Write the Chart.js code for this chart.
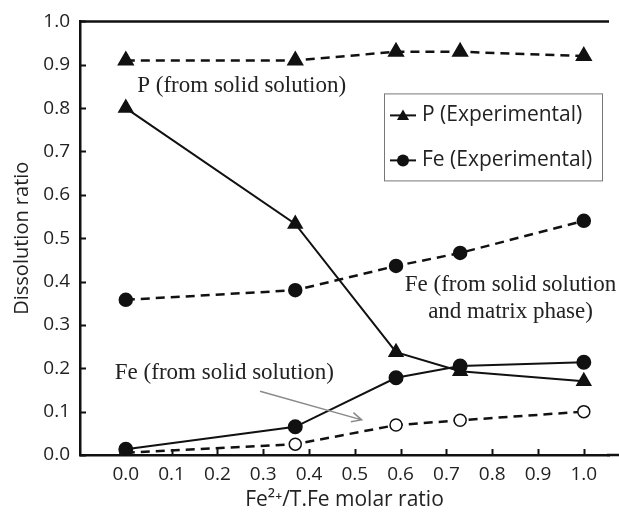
<!DOCTYPE html>
<html>
<head>
<meta charset="utf-8">
<title>Dissolution ratio</title>
<script src="https://cdn.jsdelivr.net/npm/chart.js@4.4.1/dist/chart.umd.min.js"></script>
<style>
  html, body { margin:0; padding:0; background:#fff; overflow:hidden; }
  #wrap { width:619px; height:515px; }
</style>
</head>
<body>
<div id="wrap"><canvas id="chart" width="619" height="515"></canvas></div>
<script>
// Fe2+/T.Fe molar ratio of each sample
const xVals = [0.0, 0.37, 0.59, 0.73, 1.0];

// dissolution ratios
const pExp     = [0.800, 0.533, 0.237, 0.193, 0.170];
const pSolid   = [0.910, 0.910, 0.930, 0.930, 0.920];
const feExp    = [0.013, 0.065, 0.178, 0.205, 0.214];
const feMatrix = [0.358, 0.380, 0.436, 0.466, 0.540];
const feSolid  = [0.005, 0.025, 0.069, 0.080, 0.100];

const xTicks = [0.0, 0.1, 0.2, 0.3, 0.4, 0.5, 0.6, 0.7, 0.8, 0.9, 1.0];
const yTicks = [0.0, 0.1, 0.2, 0.3, 0.4, 0.5, 0.6, 0.7, 0.8, 0.9, 1.0];

const legendLabels = ["P (Experimental)", "Fe (Experimental)"];

const SANS = "'Open Sans', sans-serif";
const SERIF = "'Liberation Serif', 'Times New Roman', serif";
const INK = "#111";

// text notes placed in data units
const notes = [
  { text: "P (from solid solution)", x: 0.025, y: 0.852, align: "left" },
  { text: "Fe (from solid solution", x: 0.84, y: 0.393, align: "center" },
  { text: "and matrix phase)", x: 0.84, y: 0.329, align: "center" },
  { text: "Fe (from solid solution)", x: -0.024, y: 0.19, align: "left" }
];
const arrow = { x0: 0.293, y0: 0.147, x1: 0.515, y1: 0.081 };

function pts(ys){ return xVals.map((x, i) => ({ x, y: ys[i] })); }

function tri(ctx, x, y, r){
  ctx.beginPath();
  ctx.moveTo(x, y - r);
  ctx.lineTo(x + r * 0.866, y + r * 0.5);
  ctx.lineTo(x - r * 0.866, y + r * 0.5);
  ctx.closePath();
  ctx.fill();
}

const extras = {
  id: "extras",
  afterDatasetsDraw(chart){
    const { ctx, chartArea: a, scales: { x, y } } = chart;
    ctx.save();

    // top frame line, and the x axis line running on to the edge
    ctx.strokeStyle = INK;
    ctx.lineWidth = 2.5;
    ctx.beginPath();
    ctx.moveTo(a.left, a.top);
    ctx.lineTo(a.right, a.top);
    ctx.moveTo(a.right - 2, a.bottom);
    ctx.lineTo(chart.width, a.bottom);
    ctx.stroke();

    // inward tick marks
    ctx.lineWidth = 2;
    ctx.beginPath();
    xTicks.forEach(v => {
      const px = Math.round(x.getPixelForValue(v)) + 0.5;
      ctx.moveTo(px, a.bottom);
      ctx.lineTo(px, a.bottom - 6);
    });
    yTicks.forEach(v => {
      const py = Math.round(y.getPixelForValue(v)) + 0.5;
      ctx.moveTo(a.left, py);
      ctx.lineTo(a.left + 6, py);
    });
    ctx.stroke();

    // notes
    ctx.fillStyle = "#222";
    ctx.font = "23px " + SERIF;
    ctx.textBaseline = "middle";
    notes.forEach(n => {
      ctx.textAlign = n.align;
      ctx.fillText(n.text, x.getPixelForValue(n.x), y.getPixelForValue(n.y));
    });

    // grey pointer arrow
    const ax0 = x.getPixelForValue(arrow.x0), ay0 = y.getPixelForValue(arrow.y0);
    const ax1 = x.getPixelForValue(arrow.x1), ay1 = y.getPixelForValue(arrow.y1);
    const ang = Math.atan2(ay1 - ay0, ax1 - ax0);
    ctx.strokeStyle = "#8a8a8a";
    ctx.lineWidth = 1.5;
    ctx.beginPath();
    ctx.moveTo(ax0, ay0);
    ctx.lineTo(ax1, ay1);
    ctx.moveTo(ax1 - 11 * Math.cos(ang - 0.45), ay1 - 11 * Math.sin(ang - 0.45));
    ctx.lineTo(ax1, ay1);
    ctx.lineTo(ax1 - 11 * Math.cos(ang + 0.45), ay1 - 11 * Math.sin(ang + 0.45));
    ctx.stroke();

    // legend box
    const bx = a.left + 304, by = a.top + 72, bw = 218, bh = 87;
    ctx.fillStyle = "#fff";
    ctx.fillRect(bx, by, bw, bh);
    ctx.strokeStyle = "#777";
    ctx.lineWidth = 1;
    ctx.strokeRect(bx + 0.5, by + 0.5, bw, bh);

    ctx.font = "21px " + SANS;
    ctx.textAlign = "left";
    legendLabels.forEach((label, i) => {
      const ly = by + 22 + i * 45;
      ctx.strokeStyle = INK;
      ctx.lineWidth = 2;
      ctx.beginPath();
      ctx.moveTo(bx + 6, ly);
      ctx.lineTo(bx + 32, ly);
      ctx.stroke();
      ctx.fillStyle = INK;
      if (i === 0) {
        tri(ctx, bx + 19, ly + 1, 7);
      } else {
        ctx.beginPath();
        ctx.arc(bx + 19, ly, 6, 0, Math.PI * 2);
        ctx.fill();
      }
      ctx.fillStyle = "#222";
      ctx.fillText(label, bx + 38, ly);
    });

    ctx.restore();
  }
};

const solid = { borderColor: INK, backgroundColor: INK, borderWidth: 2, pointBorderColor: INK, pointBackgroundColor: INK };
const dashed = { ...solid, borderWidth: 2.5, borderDash: [9, 6] };

new Chart(document.getElementById("chart"), {
  type: "line",
  data: {
    datasets: [
      { label: "P (Experimental)", data: pts(pExp), ...solid, pointStyle: "triangle", pointRadius: 7.5 },
      { label: "P (from solid solution)", data: pts(pSolid), ...dashed, pointStyle: "triangle", pointRadius: 7.5 },
      { label: "Fe (Experimental)", data: pts(feExp), ...solid, pointStyle: "circle", pointRadius: 6.5 },
      { label: "Fe (from solid solution and matrix phase)", data: pts(feMatrix), ...dashed, pointStyle: "circle", pointRadius: 6 },
      { label: "Fe (from solid solution)", data: pts(feSolid), ...dashed, pointStyle: "circle", pointRadius: 6,
        pointBackgroundColor: "#fff", pointBorderWidth: 1.5 }
    ]
  },
  options: {
    responsive: false,
    animation: false,
    layout: { padding: { top: 20, right: 0, left: 0, bottom: 0 } },
    plugins: { legend: { display: false }, tooltip: { enabled: false } },
    elements: { line: { tension: 0 } },
    scales: {
      x: {
        type: "linear",
        min: -0.1,
        max: 1.055,
        afterBuildTicks: s => { s.ticks = xTicks.map(v => ({ value: v })); },
        afterFit: s => { s.height = 60; },
        grid: { display: false, drawTicks: false },
        border: { display: true, color: INK, width: 2.5 },
        ticks: { color: "#222", font: { family: SANS, size: 19 }, padding: 8, maxRotation: 0,
                 callback: v => Number(v).toFixed(1) },
        title: { display: true, text: "Fe²⁺/T.Fe molar ratio", color: "#222",
                 font: { family: SANS, size: 21 }, padding: { top: 0, bottom: 2 } }
      },
      y: {
        min: 0,
        max: 1.0,
        afterBuildTicks: s => { s.ticks = yTicks.map(v => ({ value: v })); },
        afterFit: s => { s.width = 80; },
        grid: { display: false, drawTicks: false },
        border: { display: true, color: INK, width: 2.5 },
        ticks: { color: "#222", font: { family: SANS, size: 19 }, padding: 10,
                 callback: v => Number(v).toFixed(1) },
        title: { display: true, text: "Dissolution ratio", color: "#222",
                 font: { family: SANS, size: 20 }, padding: { top: 10, bottom: 0 } }
      }
    }
  },
  plugins: [extras]
});
</script>
</body>
</html>
